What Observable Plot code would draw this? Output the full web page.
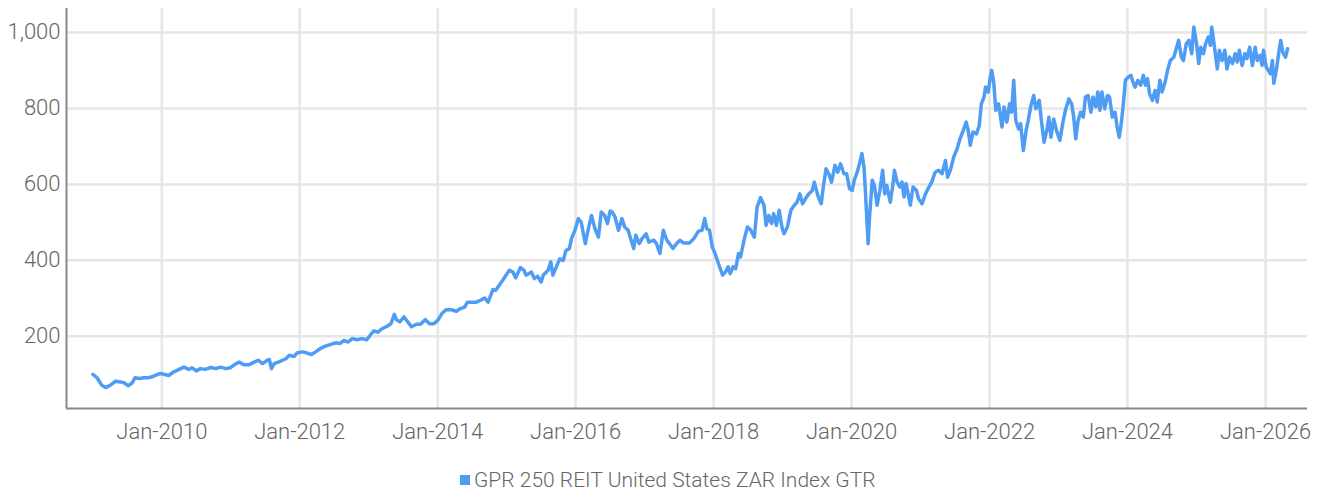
<!DOCTYPE html>
<html><head><meta charset="utf-8">
<script src="https://cdn.jsdelivr.net/npm/d3@7"></script>
<script src="https://cdn.jsdelivr.net/npm/@observablehq/plot@0.6"></script>
<style>
body{margin:0;background:#fff;font-family:Roboto,sans-serif;}
#legend{display:flex;align-items:center;margin-left:460px;margin-top:19px;font-size:21px;color:#666;font-weight:300;line-height:22px}
#legend .sw{width:10px;height:10px;margin-right:4px}
</style></head><body><div id="chart"></div><div id="legend"></div>
<script>
const seriesName = "GPR 250 REIT United States ZAR Index GTR";
const lineColor = "#4f9cf5";
const yTicks = [200, 400, 600, 800, 1000];
const xTickYears = [2010, 2012, 2014, 2016, 2018, 2020, 2022, 2024, 2026];
const years = [
2009.00,2009.06,2009.13,2009.19,2009.25,2009.33,2009.40,2009.46,2009.51,2009.57,2009.61,2009.67,2009.74,2009.81,2009.88,2009.97,
2010.03,2010.10,2010.17,2010.25,2010.32,2010.39,2010.44,2010.50,2010.56,2010.63,2010.71,2010.78,2010.85,2010.93,
2011.00,2011.05,2011.12,2011.19,2011.26,2011.34,2011.40,2011.46,2011.53,2011.56,2011.59,2011.63,2011.69,2011.75,2011.80,2011.85,2011.92,2011.96,
2012.04,2012.11,2012.17,2012.23,2012.30,2012.37,2012.44,2012.52,2012.58,2012.64,2012.70,2012.76,2012.83,2012.90,2012.97,
2013.02,2013.07,2013.13,2013.19,2013.26,2013.32,2013.37,2013.40,2013.45,2013.51,2013.56,2013.62,2013.69,2013.75,2013.82,2013.88,2013.94,
2014.00,2014.06,2014.12,2014.20,2014.27,2014.33,2014.39,2014.43,2014.49,2014.56,2014.62,2014.68,2014.73,2014.80,2014.84,2014.89,2014.94,2014.99,
2015.04,2015.09,2015.13,2015.20,2015.25,2015.28,2015.36,2015.40,2015.45,2015.50,2015.53,2015.60,2015.64,2015.67,2015.72,2015.77,2015.82,2015.86,2015.91,2015.94,2015.99,
2016.04,2016.08,2016.14,2016.19,2016.23,2016.28,2016.33,2016.37,2016.42,2016.46,2016.50,2016.53,2016.57,2016.62,2016.67,2016.71,2016.76,2016.79,2016.84,2016.87,2016.92,2016.96,
2017.02,2017.06,2017.13,2017.17,2017.22,2017.27,2017.32,2017.36,2017.41,2017.46,2017.51,2017.56,2017.65,2017.71,2017.78,2017.83,2017.87,2017.90,2017.94,2017.98,
2018.02,2018.07,2018.13,2018.17,2018.21,2018.24,2018.28,2018.32,2018.36,2018.39,2018.44,2018.49,2018.54,2018.59,2018.63,2018.68,2018.73,2018.76,2018.80,2018.84,2018.87,2018.91,2018.95,2018.99,
2019.02,2019.07,2019.12,2019.17,2019.21,2019.25,2019.29,2019.33,2019.38,2019.43,2019.46,2019.51,2019.56,2019.59,2019.63,2019.67,2019.71,2019.76,2019.80,2019.84,2019.89,2019.93,2019.97,
2020.01,2020.04,2020.09,2020.12,2020.15,2020.18,2020.20,2020.24,2020.26,2020.30,2020.33,2020.37,2020.41,2020.45,2020.48,2020.51,2020.56,2020.60,2020.62,2020.66,2020.70,2020.73,2020.76,2020.79,2020.85,2020.89,2020.94,2020.97,
2021.02,2021.07,2021.12,2021.16,2021.21,2021.26,2021.31,2021.36,2021.39,2021.43,2021.48,2021.53,2021.57,2021.61,2021.66,2021.69,2021.72,2021.76,2021.81,2021.85,2021.88,2021.92,2021.94,2021.98,
2022.01,2022.03,2022.06,2022.09,2022.13,2022.18,2022.21,2022.25,2022.29,2022.32,2022.35,2022.38,2022.42,2022.45,2022.49,2022.53,2022.56,2022.60,2022.64,2022.67,2022.72,2022.75,2022.79,2022.83,2022.86,2022.89,2022.93,2022.97,
2023.02,2023.06,2023.10,2023.15,2023.19,2023.22,2023.25,2023.28,2023.32,2023.36,2023.39,2023.43,2023.47,2023.50,2023.54,2023.57,2023.60,2023.63,2023.67,2023.71,2023.74,2023.78,2023.82,2023.85,2023.88,2023.91,2023.94,2023.97,
2024.01,2024.05,2024.08,2024.11,2024.15,2024.19,2024.23,2024.26,2024.29,2024.32,2024.36,2024.40,2024.43,2024.47,2024.50,2024.54,2024.58,2024.62,2024.67,2024.70,2024.74,2024.78,2024.81,2024.85,2024.89,2024.93,2024.96,
2025.00,2025.03,2025.06,2025.10,2025.13,2025.17,2025.20,2025.22,2025.26,2025.30,2025.33,2025.37,2025.41,2025.44,2025.48,2025.52,2025.56,2025.59,2025.62,2025.66,2025.70,2025.73,2025.77,2025.81,2025.85,2025.88,2025.92,2025.95,2025.97,
2026.01,2026.04,2026.07,2026.10,2026.12,2026.16,2026.19,2026.22,2026.25,2026.29,2026.32
];
const values = [
100,91,71,65,71,82,80,77,70,77,91,89,91,91,95,102,
100,97,106,113,119,113,117,109,115,113,118,115,119,115,
118,125,132,125,125,132,137,128,137,139,115,128,132,137,141,150,147,156,
159,156,152,159,168,174,178,183,181,189,185,194,191,194,191,
203,214,211,220,226,233,258,244,238,251,239,225,232,232,244,233,233,
242,260,270,270,266,273,277,290,290,290,295,301,290,323,321,334,347,361,
374,369,354,381,374,361,369,352,358,343,361,374,396,361,383,404,400,426,431,457,479,
510,501,444,488,518,483,461,527,518,497,530,527,514,479,510,488,479,461,431,466,444,457,
470,448,453,444,418,479,453,444,431,444,453,446,446,457,477,479,510,483,479,435,
418,391,361,369,383,365,383,378,418,409,453,488,479,461,540,565,545,492,518,497,523,492,532,488,
470,488,532,545,553,575,549,562,575,584,606,571,549,593,641,628,606,650,632,654,628,628,589,
584,611,637,659,681,646,584,444,514,611,597,545,584,637,575,597,553,602,637,606,593,606,567,602,545,593,584,562,
549,575,593,606,632,637,628,663,619,637,672,694,720,738,764,742,703,738,733,755,812,830,856,843,
882,900,869,795,812,751,804,764,812,790,874,768,746,760,689,742,768,808,834,799,821,770,711,742,777,724,772,742,
716,760,795,825,812,777,720,764,790,777,830,834,790,830,804,843,795,843,799,834,830,777,790,751,724,760,812,874,
882,887,869,856,874,861,887,861,878,839,821,847,817,874,843,866,900,926,935,953,979,935,926,970,979,944,1014,
970,918,961,944,970,988,966,1014,961,904,953,926,953,904,935,918,944,922,953,913,944,931,961,913,961,926,940,913,953,
909,900,891,926,866,904,944,979,948,935,957
];

function toDate(y) {
  const yr = Math.floor(y);
  const s = Date.UTC(yr, 0, 1), e = Date.UTC(yr + 1, 0, 1);
  return new Date(s + (y - yr) * (e - s));
}
const data = years.map((y, i) => ({date: toDate(y), value: values[i]}));
const xTicks = xTickYears.map(y => new Date(Date.UTC(y, 0, 1)));
const xMin = toDate(2008.618), xMax = toDate(2026.609);
const fmtX = d3.utcFormat("%b-%Y");

const chart = Plot.plot({
  width: 1321, height: 450,
  marginLeft: 66, marginRight: 14, marginTop: 8, marginBottom: 42,
  style: {fontFamily: "Roboto, sans-serif", fontSize: "22px", color: "#666", fontWeight: 300, background: "#fff"},
  x: {type: "utc", domain: [xMin, xMax], label: null},
  y: {domain: [10, 1063], label: null},
  marks: [
    Plot.gridY(yTicks, {stroke: "#e6e6e6", strokeOpacity: 1, strokeWidth: 2.5}),
    Plot.gridX(xTicks, {stroke: "#e6e6e6", strokeOpacity: 1, strokeWidth: 2.5}),
    Plot.axisY(yTicks, {tickSize: 0, tickPadding: 6, tickFormat: d3.format(","), fontSize: 22, fill: "#666", label: null}),
    Plot.axisX(xTicks, {tickSize: 0, tickPadding: 15, tickFormat: fmtX, fontSize: 22, fill: "#666", label: null}),
    Plot.ruleY([10], {stroke: "#888", strokeWidth: 2}),
    Plot.ruleX([xMin], {stroke: "#888", strokeWidth: 2}),
    Plot.lineY(data, {x: "date", y: "value", stroke: lineColor, strokeWidth: 3.5, curve: "linear"})
  ]
});
document.getElementById("chart").appendChild(chart);
const lg = document.getElementById("legend");
lg.innerHTML = `<span class="sw" style="background:${lineColor}"></span><span>${seriesName}</span>`;
</script></body></html>
